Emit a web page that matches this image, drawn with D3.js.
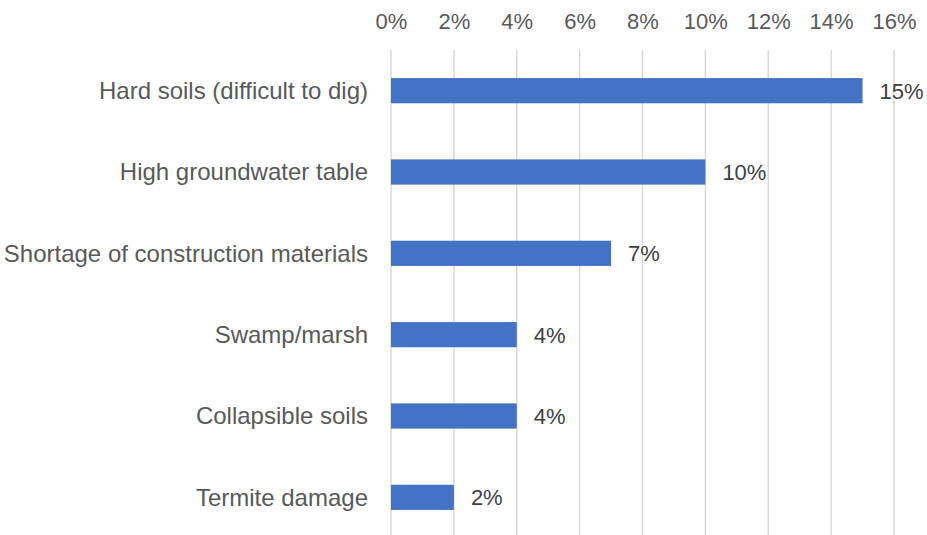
<!DOCTYPE html>
<html>
<head>
<meta charset="utf-8">
<script src="https://cdn.jsdelivr.net/npm/d3@7"></script>
<style>
  html, body { margin: 0; padding: 0; background: #fff; }
  svg { display: block; font-family: "Liberation Sans", Arial, sans-serif; }
</style>
</head>
<body>
<svg id="chart" width="927" height="535"></svg>
<script>
// Reported site constraints, share of respondents
const categories = [
  "Hard soils (difficult to dig)",
  "High groundwater table",
  "Shortage of construction materials",
  "Swamp/marsh",
  "Collapsible soils",
  "Termite damage"
];
const values = [0.15, 0.10, 0.07, 0.04, 0.04, 0.02];
const tickValues = [0, 0.02, 0.04, 0.06, 0.08, 0.10, 0.12, 0.14, 0.16];

const svg = d3.select("#chart");
const textColor = "#595959";
const labelSize = 24;
const numberSize = 22;

const x = d3.scaleLinear().domain([0, 0.16]).range([391, 894]);
const y = d3.scaleBand().domain(categories).range([50, 538]).paddingInner(0.69).paddingOuter(0.345);

// Vertical gridlines
svg.append("g")
  .selectAll("line")
  .data(tickValues)
  .join("line")
  .attr("x1", d => x(d)).attr("x2", d => x(d))
  .attr("y1", 50).attr("y2", 535)
  .attr("stroke", "#d9d9d9")
  .attr("stroke-width", 1.5);

// Top axis labels
const xAxis = d3.axisTop(x)
  .tickValues(tickValues)
  .tickFormat(d3.format(".0%"))
  .tickSize(0)
  .tickPadding(0);
const gx = svg.append("g").attr("transform", "translate(0,29)").call(xAxis);
gx.select(".domain").remove();
gx.selectAll("text")
  .attr("fill", textColor)
  .attr("font-size", numberSize)
  .attr("font-family", "Liberation Sans, Arial, sans-serif")
  .attr("dy", 0);

// Category labels
const yAxis = d3.axisLeft(y).tickSize(0).tickPadding(0);
const gy = svg.append("g").attr("transform", "translate(368,0)").call(yAxis);
gy.select(".domain").remove();
gy.selectAll("text")
  .attr("fill", textColor)
  .attr("font-size", labelSize)
  .attr("font-family", "Liberation Sans, Arial, sans-serif")
  .attr("dy", "0.35em");

// Bars
const rows = categories.map((c, i) => ({ c, v: values[i] }));
svg.append("g")
  .selectAll("rect")
  .data(rows)
  .join("rect")
  .attr("x", x(0))
  .attr("y", d => y(d.c))
  .attr("width", d => x(d.v) - x(0))
  .attr("height", y.bandwidth())
  .attr("fill", "#4472c4");

// Value labels
svg.append("g")
  .selectAll("text")
  .data(rows)
  .join("text")
  .attr("x", d => x(d.v) + 17)
  .attr("y", d => y(d.c) + y.bandwidth() / 2)
  .attr("dy", "0.36em")
  .attr("fill", "#404040")
  .attr("font-size", numberSize)
  .text(d => d3.format(".0%")(d.v));
</script>
</body>
</html>
